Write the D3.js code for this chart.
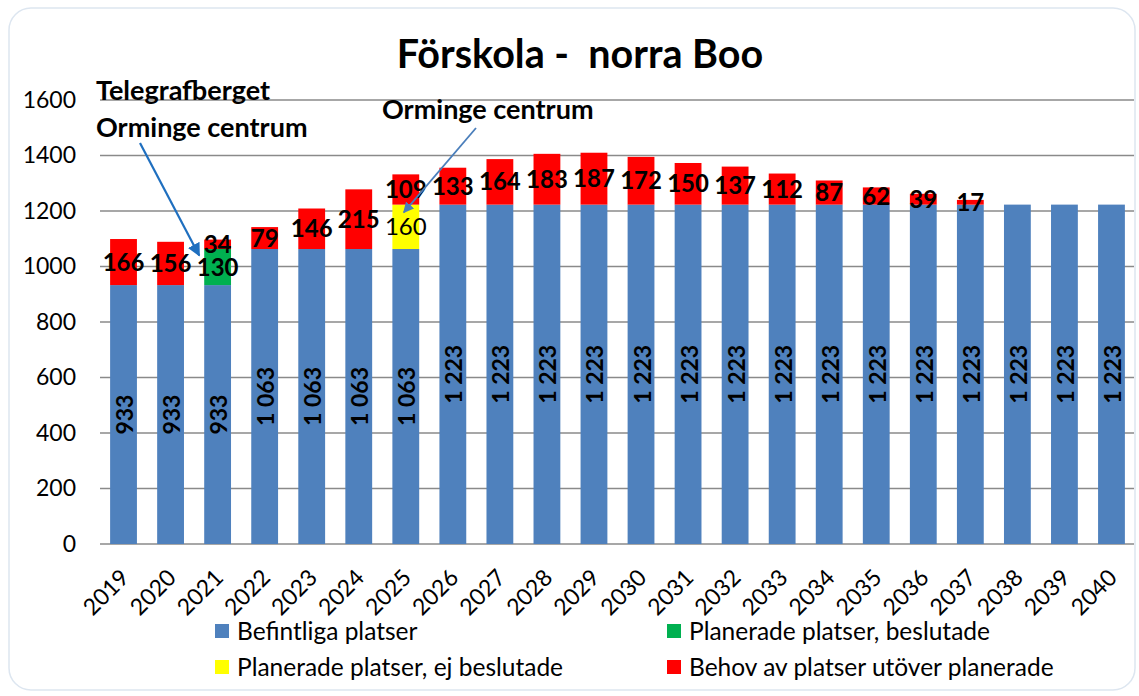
<!DOCTYPE html>
<html>
<head>
<meta charset="utf-8">
<script src="https://cdn.jsdelivr.net/npm/d3@7"></script>
<style>
  html, body { margin: 0; padding: 0; background: #ffffff; }
  svg { display: block; }
  text { font-family: Lato, "Open Sans", "Noto Sans", sans-serif; fill: #000; }
</style>
</head>
<body>
<svg id="chart" width="1139" height="696"></svg>
<script>
// Years on the x axis
const years = ["2019","2020","2021","2022","2023","2024","2025","2026","2027","2028","2029",
               "2030","2031","2032","2033","2034","2035","2036","2037","2038","2039","2040"];
// Existing places
const befintliga = [933,933,933,1063,1063,1063,1063,1223,1223,1223,1223,
                    1223,1223,1223,1223,1223,1223,1223,1223,1223,1223,1223];
// Planned places, decided
const beslutade = [0,0,130,0,0,0,0,0,0,0,0,0,0,0,0,0,0,0,0,0,0,0];
// Planned places, not decided
const ejBeslutade = [0,0,0,0,0,0,160,0,0,0,0,0,0,0,0,0,0,0,0,0,0,0];
// Need beyond planned places
const behov = [166,156,34,79,146,215,109,133,164,183,187,172,150,137,112,87,62,39,17,0,0,0];

const yTicks = [0,200,400,600,800,1000,1200,1400,1600];
const seriesNames = ["Befintliga platser","Planerade platser, beslutade",
                     "Planerade platser, ej beslutade","Behov av platser utöver planerade"];
const seriesColors = ["#4F81BD","#00B050","#FFFF00","#FF0000"];

const svg = d3.select("#chart");

// Rounded chart-area frame
svg.append("rect")
  .attr("x", 9).attr("y", 8).attr("width", 1126).attr("height", 682)
  .attr("rx", 22).attr("ry", 22)
  .attr("fill", "#fff").attr("stroke", "#dde6f0").attr("stroke-width", 1.5);

const x = d3.scaleBand().domain(years).range([100, 1135]).paddingInner(0.43).paddingOuter(0.215);
const y = d3.scaleLinear().domain([0, 1600]).range([544, 100]);

// Gridlines
svg.append("g").selectAll("line").data(yTicks).join("line")
  .attr("x1", 100).attr("x2", 1134)
  .attr("y1", d => y(d)).attr("y2", d => y(d))
  .attr("stroke", "#8a8a8a").attr("stroke-width", 1.6);

// Y axis tick labels
const yAxis = d3.axisLeft(y).tickValues(yTicks).tickSize(0).tickPadding(0).tickFormat(d3.format("d"));
svg.append("g").attr("transform", "translate(76,0)").call(yAxis)
  .call(g => g.select(".domain").remove())
  .selectAll("text").attr("font-size", 23).attr("fill", "#000")
  .style("font-family", "Lato, sans-serif");

// Stack the series
const rows = years.map((yr, i) => ({
  year: yr, s0: befintliga[i], s1: beslutade[i], s2: ejBeslutade[i], s3: behov[i]
}));
const stack = d3.stack().keys(["s0","s1","s2","s3"]);
const stacked = stack(rows);

const bars = svg.append("g");
stacked.forEach((layer, k) => {
  bars.selectAll(null).data(layer.filter(d => d[1] - d[0] > 0)).join("rect")
    .attr("x", d => x(d.data.year))
    .attr("width", x.bandwidth())
    .attr("y", d => y(d[1]))
    .attr("height", d => y(d[0]) - y(d[1]))
    .attr("fill", seriesColors[k]);
});

// Value labels
const fmtThousand = v => d3.format(",")(v).replace(/,/g, " ");
const labels = svg.append("g");
// Existing places: rotated, centered in the segment
labels.selectAll(null).data(stacked[0]).join("text")
  .attr("transform", d => `translate(${x(d.data.year) + x.bandwidth() / 2 + 9.5},${y((d[0] + d[1]) / 2)}) rotate(-90)`)
  .attr("text-anchor", "middle")
  .attr("font-size", 23).attr("font-weight", "bold")
  .text(d => fmtThousand(d[1] - d[0]));

[1, 2, 3].forEach(k => {
  labels.selectAll(null).data(stacked[k].filter(d => d[1] - d[0] > 0)).join("text")
    .attr("x", d => x(d.data.year) + x.bandwidth() / 2)
    .attr("y", d => y((d[0] + d[1]) / 2) + 8.5)
    .attr("text-anchor", "middle")
    .attr("font-size", 24)
    .attr("font-weight", k === 2 ? "normal" : "bold")
    .text(d => d[1] - d[0]);
});

// X axis labels, rotated
svg.append("g").selectAll("text").data(years).join("text")
  .attr("transform", d => `translate(${x(d) + x.bandwidth() / 2 + 7},${579}) rotate(-45)`)
  .attr("text-anchor", "end")
  .attr("font-size", 23)
  .text(d => d);

// Title
svg.append("text").attr("x", 580).attr("y", 68).attr("text-anchor", "middle")
  .attr("font-size", 39.5).attr("font-weight", "bold")
  .attr("xml:space", "preserve").style("white-space", "pre")
  .text("Förskola -  norra Boo");

// Annotations with arrows
const defs = svg.append("defs");
function marker(id, color) {
  defs.append("marker").attr("id", id)
    .attr("viewBox", "0 0 10 10").attr("refX", 9).attr("refY", 5)
    .attr("markerWidth", 6).attr("markerHeight", 6).attr("markerUnits", "strokeWidth")
    .attr("orient", "auto")
    .append("path").attr("d", "M0,0 L10,5 L0,10 Z").attr("fill", color);
}
marker("arrowA", "#1F6FBF");
marker("arrowB", "#4A7EBB");

svg.append("text").attr("x", 96).attr("y", 100).attr("font-size", 27).attr("font-weight", "bold").text("Telegrafberget");
svg.append("text").attr("x", 96).attr("y", 137).attr("font-size", 27).attr("font-weight", "bold").text("Orminge centrum");
svg.append("line")
  .attr("x1", 140).attr("y1", 143)
  .attr("x2", x("2021") - 5).attr("y2", y(1040))
  .attr("stroke", "#1F6FBF").attr("stroke-width", 2.2)
  .attr("marker-end", "url(#arrowA)");

svg.append("text").attr("x", 382).attr("y", 119).attr("font-size", 27).attr("font-weight", "bold").text("Orminge centrum");
svg.append("line")
  .attr("x1", 476).attr("y1", 128)
  .attr("x2", x("2025") + x.bandwidth() / 2 - 2).attr("y2", y(1195))
  .attr("stroke", "#4A7EBB").attr("stroke-width", 1.8)
  .attr("marker-end", "url(#arrowB)");

// Legend
const legendPos = [[215, 631], [667, 631], [215, 667], [667, 667]];
const legend = svg.append("g");
seriesNames.forEach((name, i) => {
  const [lx, ly] = legendPos[i];
  legend.append("rect").attr("x", lx).attr("y", ly - 7).attr("width", 14).attr("height", 14).attr("fill", seriesColors[i]);
  legend.append("text").attr("x", lx + 22).attr("y", ly + 8.5).attr("font-size", 24.5).text(name);
});
</script>
</body>
</html>
